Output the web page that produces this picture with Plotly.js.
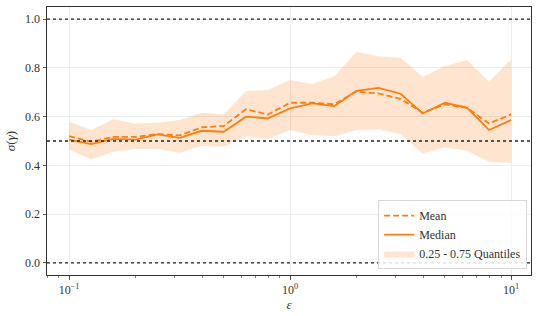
<!DOCTYPE html>
<html>
<head>
<meta charset="utf-8">
<script src="https://cdn.plot.ly/plotly-3.0.1.min.js"></script>
<style>html,body{margin:0;padding:0;background:#fff;}#chart{width:540px;height:316px;}</style>
</head>
<body>
<div id="chart"></div>
<script>
const epsilon = [0.1, 0.1259, 0.1585, 0.1995, 0.2512, 0.3162, 0.3981, 0.5012, 0.631, 0.7943,
                 1.0, 1.2589, 1.5849, 1.9953, 2.5119, 3.1623, 3.9811, 5.0119, 6.3096, 7.9433, 10.0];
const meanVals = [0.520, 0.497, 0.517, 0.517, 0.528, 0.523, 0.556, 0.562, 0.630, 0.609,
                  0.657, 0.657, 0.651, 0.703, 0.695, 0.673, 0.616, 0.650, 0.636, 0.572, 0.609];
const medianVals = [0.506, 0.487, 0.509, 0.506, 0.527, 0.513, 0.542, 0.538, 0.600, 0.593,
                    0.634, 0.654, 0.643, 0.706, 0.718, 0.694, 0.613, 0.657, 0.637, 0.545, 0.586];
const q25 = [0.465, 0.424, 0.456, 0.467, 0.467, 0.452, 0.480, 0.476, 0.520, 0.507,
             0.545, 0.524, 0.520, 0.545, 0.548, 0.528, 0.449, 0.474, 0.460, 0.415, 0.410];
const q75 = [0.579, 0.545, 0.589, 0.572, 0.575, 0.586, 0.616, 0.609, 0.705, 0.709,
             0.750, 0.734, 0.766, 0.866, 0.848, 0.842, 0.764, 0.807, 0.832, 0.743, 0.835];
const refLines = [0.0, 0.5, 1.0];
const yTicks = [0.0, 0.2, 0.4, 0.6, 0.8, 1.0];
const yTickText = ['0.0', '0.2', '0.4', '0.6', '0.8', '1.0'];
const xTicks = [0.1, 1, 10];
const xTickText = ['10<sup>−1</sup>', '10<sup>0</sup>', '10<sup>1</sup>'];

const orange = '#ff7f0e';
const fillCol = 'rgba(255,127,14,0.2)';
const font = 'Liberation Serif';

const data = [
  {x: epsilon, y: q75, type: 'scatter', mode: 'lines', line: {width: 0, color: fillCol},
   showlegend: false, hoverinfo: 'skip'},
  {x: epsilon, y: q25, type: 'scatter', mode: 'lines', line: {width: 0, color: fillCol},
   fill: 'tonexty', fillcolor: fillCol, name: '0.25 - 0.75 Quantiles', legendrank: 3},
  {x: epsilon, y: meanVals, type: 'scatter', mode: 'lines', name: 'Mean',
   line: {color: orange, width: 1.8, dash: '6px,3px'}, legendrank: 1},
  {x: epsilon, y: medianVals, type: 'scatter', mode: 'lines', name: 'Median',
   line: {color: orange, width: 1.8}, legendrank: 2}
];

const shapes = refLines.map(v => ({
  type: 'line', xref: 'paper', x0: 0, x1: 1, yref: 'y', y0: v, y1: v,
  line: {color: '#222', width: 1.3, dash: 'dot'}, layer: 'above'
}));

const layout = {
  width: 540, height: 316,
  margin: {l: 47, r: 9, t: 7, b: 41},
  paper_bgcolor: '#fff', plot_bgcolor: '#fff',
  font: {family: font, size: 12, color: '#333'},
  showlegend: true,
  legend: {x: 0.992, xanchor: 'right', y: 0.022, yanchor: 'bottom', traceorder: 'normal',
           bgcolor: 'rgba(255,255,255,0.85)', bordercolor: '#d8d8d8', borderwidth: 1,
           font: {family: font, size: 12, color: '#333'}, tracegroupgap: 0,
           itemwidth: 30},
  xaxis: {
    type: 'log', range: [-1.1, 1.09], tickvals: xTicks, ticktext: xTickText,
    showgrid: true, gridcolor: '#ececec', gridwidth: 1,
    showline: true, linecolor: '#333', linewidth: 1, mirror: true,
    ticks: 'outside', ticklen: 3.5, tickwidth: 0.8, tickcolor: '#333',
    minor: {ticks: 'outside', ticklen: 2, tickwidth: 0.6, tickcolor: '#333', dtick: 'D1', showgrid: false},
    zeroline: false,
    title: {text: '<i>ε</i>', font: {family: font, size: 13, color: '#333'}, standoff: 3},
    tickfont: {family: font, size: 12, color: '#333'}
  },
  yaxis: {
    range: [-0.05, 1.05], tickvals: yTicks, ticktext: yTickText,
    showgrid: true, gridcolor: '#ececec', gridwidth: 1,
    showline: true, linecolor: '#333', linewidth: 1, mirror: true,
    ticks: 'outside', ticklen: 3.5, tickwidth: 0.8, tickcolor: '#333',
    zeroline: false,
    title: {text: '<i>σ</i>(<i>γ</i>)', font: {family: font, size: 13, color: '#333'}, standoff: 6},
    tickfont: {family: font, size: 12, color: '#333'}
  },
  shapes: shapes
};

Plotly.newPlot('chart', data, layout, {displayModeBar: false, staticPlot: true});
</script>
</body>
</html>
